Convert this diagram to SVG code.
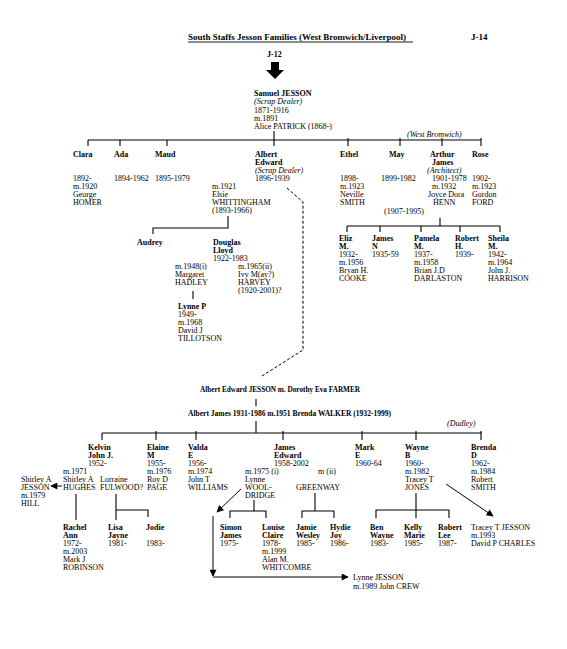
<svg xmlns="http://www.w3.org/2000/svg" width="567" height="649" viewBox="0 0 567 649">
<style>
text{font-family:"Liberation Serif","Times New Roman",serif;font-size:8px;fill:#000}
.b{font-weight:bold}
.i{font-style:italic}
.h{font-size:9px;font-weight:bold}
.ln{stroke:#000;stroke-width:1.1;fill:none}
.dash{stroke:#000;stroke-width:1;fill:none;stroke-dasharray:3,2}
.ar{stroke:#000;stroke-width:1;fill:none;marker-end:url(#ah)}
</style>
<defs>
<marker id="ah" viewBox="0 0 10 10" refX="9" refY="5" markerWidth="8" markerHeight="7" markerUnits="userSpaceOnUse" orient="auto"><path d="M0,0 L10,5 L0,10z" fill="#000"/></marker>
</defs>
<rect width="567" height="649" fill="#fff"/>
<g id="header">
<text class="h" x="188" y="40">South Staffs Jesson Families (West Bromwich/Liverpool)</text>
<line x1="188" y1="42" x2="413" y2="42" stroke="#000" stroke-width="0.9"/>
<text class="h" x="471" y="40">J-14</text>
<text class="b" x="267" y="57">J-12</text>
<rect x="271" y="62" width="8" height="9" fill="#000"/>
<polygon points="266,70 284,70 275,79" fill="#000"/>
</g>
<g id="connectors">
<line class="ln" x1="274" y1="131" x2="274" y2="146"/>
<line class="ln" x1="88" y1="140" x2="481" y2="140" stroke-width="1.4"/>
<path class="ln" d="M88,140V146M120,140V146M167,140V146M348,138V146M400,138V146M442,138V146M481,138V146"/>
<path class="ln" d="M228,216V228H153V234"/>
<path class="ln" d="M193,291V299"/>
<path class="ln" d="M440,218V226M347,226H500M347,226V232M380,226V232M421,226V232M460,226V232M500,226V232"/>
<path class="dash" d="M287,188L303,202L303,350L262,376"/>
<path class="ln" d="M256,399V406M256,421V433"/>
<line class="ln" x1="102" y1="433" x2="482" y2="433" stroke-width="1.5"/>
<path class="ln" d="M102,433V440M156,431V440M196,431V440M283,431V440M362,431V440M416,431V440M481,431V440"/>
<path class="ar" d="M62,486H51"/>
<path class="ln" d="M76,494V520"/>
<path class="ln" d="M116,494V520M116,510H148V517"/>
<path class="ln" d="M254,500V511M230,518V511H266V518"/>
<path class="ln" d="M315,493V511M302,518V511H334V518"/>
<path class="ln" d="M416,493V518M376,518V510H449V518"/>
<path class="ar" d="M241,489L217,512"/>
<path class="ar" d="M446,484L493,516"/>
<path class="ar" d="M213,516V576"/>
<path class="ar" d="M213,577H348"/>
</g>
<g id="samuel">
<text x="254" y="96"><tspan class="b">Samuel JESSON</tspan><tspan class="i" x="254" dy="8.3">(Scrap Dealer)</tspan><tspan x="254" dy="8.3">1871-1916</tspan><tspan x="254" dy="8.2">m.1891</tspan><tspan x="254" dy="8.2">Alice PATRICK (1868-)</tspan></text>
<text class="i" x="407" y="137">(West Bromwich)</text>
</g>
<g id="clara"><text x="73" y="157"><tspan class="b">Clara</tspan><tspan x="73" dy="24">1892-</tspan><tspan x="73" dy="8">m.1920</tspan><tspan x="73" dy="8">George</tspan><tspan x="73" dy="8">HOMER</tspan></text></g>
<g id="ada"><text x="114" y="157"><tspan class="b">Ada</tspan><tspan x="114" dy="24">1894-1962</tspan></text></g>
<g id="maud"><text x="155" y="157"><tspan class="b">Maud</tspan><tspan x="155" dy="24">1895-1979</tspan></text></g>
<g id="albert-edward"><text x="255" y="157"><tspan class="b">Albert</tspan><tspan class="b" x="255" dy="8">Edward</tspan><tspan class="i" x="255" dy="8">(Scrap Dealer)</tspan><tspan x="255" dy="8">1896-1939</tspan></text></g>
<g id="elsie"><text x="212" y="189"><tspan>m.1921</tspan><tspan x="212" dy="8">Elsie</tspan><tspan x="212" dy="8">WHITTINGHAM</tspan><tspan x="212" dy="8">(1893-1966)</tspan></text></g>
<g id="ethel"><text x="340" y="157"><tspan class="b">Ethel</tspan><tspan x="340" dy="24">1898-</tspan><tspan x="340" dy="8">m.1923</tspan><tspan x="340" dy="8">Neville</tspan><tspan x="340" dy="8">SMITH</tspan></text></g>
<g id="may"><text x="389" y="157"><tspan class="b">May</tspan><tspan x="381" dy="24">1899-1982</tspan></text></g>
<g id="arthur"><text x="430" y="157"><tspan class="b">Arthur</tspan><tspan class="b" x="432" dy="8">James</tspan><tspan class="i" x="427" dy="8">(Architect)</tspan><tspan x="432" dy="8">1901-1978</tspan><tspan x="432" dy="8">m.1932</tspan><tspan x="428" dy="8">Joyce Dora</tspan><tspan x="433" dy="8">HENN</tspan><tspan x="384" dy="9">(1907-1995)</tspan></text></g>
<g id="rose"><text x="472" y="157"><tspan class="b">Rose</tspan><tspan x="472" dy="24">1902-</tspan><tspan x="472" dy="8">m.1923</tspan><tspan x="472" dy="8">Gordon</tspan><tspan x="472" dy="8">FORD</tspan></text></g>
<g id="audrey"><text class="b" x="137" y="245">Audrey</text></g>
<g id="douglas"><text x="213" y="245"><tspan class="b">Douglas</tspan><tspan class="b" x="213" dy="8">Lloyd</tspan><tspan x="213" dy="8">1922-1983</tspan></text></g>
<g id="margaret"><text x="175" y="269"><tspan>m.1948(i)</tspan><tspan x="175" dy="8">Margaret</tspan><tspan x="175" dy="8">HADLEY</tspan></text></g>
<g id="ivy"><text x="238" y="269"><tspan>m.1965(ii)</tspan><tspan x="238" dy="8">Ivy M(ay?)</tspan><tspan x="238" dy="8">HARVEY</tspan><tspan x="238" dy="8">(1920-2001)?</tspan></text></g>
<g id="lynne-p"><text x="178" y="309"><tspan class="b">Lynne P</tspan><tspan x="178" dy="8">1949-</tspan><tspan x="178" dy="8">m.1968</tspan><tspan x="178" dy="8">David J</tspan><tspan x="178" dy="8">TILLOTSON</tspan></text></g>
<g id="eliz"><text x="339" y="241"><tspan class="b">Eliz</tspan><tspan class="b" x="339" dy="8">M.</tspan><tspan x="339" dy="8">1932-</tspan><tspan x="339" dy="8">m.1956</tspan><tspan x="339" dy="8">Bryan H.</tspan><tspan x="339" dy="8">COOKE</tspan></text></g>
<g id="james-n"><text x="372" y="241"><tspan class="b">James</tspan><tspan class="b" x="372" dy="8">N</tspan><tspan x="372" dy="8">1935-59</tspan></text></g>
<g id="pamela"><text x="414" y="241"><tspan class="b">Pamela</tspan><tspan class="b" x="414" dy="8">M.</tspan><tspan x="414" dy="8">1937-</tspan><tspan x="414" dy="8">m.1958</tspan><tspan x="414" dy="8">Brian J.D</tspan><tspan x="414" dy="8">DARLASTON</tspan></text></g>
<g id="robert-h"><text x="455" y="241"><tspan class="b">Robert</tspan><tspan class="b" x="455" dy="8">H.</tspan><tspan x="455" dy="8">1939-</tspan></text></g>
<g id="sheila"><text x="488" y="241"><tspan class="b">Sheila</tspan><tspan class="b" x="488" dy="8">M.</tspan><tspan x="488" dy="8">1942-</tspan><tspan x="488" dy="8">m.1964</tspan><tspan x="488" dy="8">John J.</tspan><tspan x="488" dy="8">HARRISON</tspan></text></g>
<g id="albert-dorothy"><text class="b" x="200" y="392" textLength="160" lengthAdjust="spacingAndGlyphs">Albert Edward JESSON m. Dorothy Eva FARMER</text></g>
<g id="albert-james"><text class="b" x="188" y="416" textLength="203" lengthAdjust="spacingAndGlyphs">Albert James 1931-1986  m.1951 Brenda WALKER (1932-1999)</text>
<text class="i" x="447" y="426">(Dudley)</text></g>
<g id="kelvin"><text x="88" y="450"><tspan class="b">Kelvin</tspan><tspan class="b" x="88" dy="8">John J.</tspan><tspan x="88" dy="8">1952-</tspan></text></g>
<g id="shirley-hughes"><text x="63" y="474"><tspan>m.1971</tspan><tspan x="63" dy="8">Shirley A</tspan><tspan x="63" dy="8">HUGHES</tspan></text></g>
<g id="shirley-jesson"><text x="21" y="482"><tspan>Shirley A</tspan><tspan x="21" dy="8">JESSON</tspan><tspan x="21" dy="8">m.1979</tspan><tspan x="21" dy="8">HILL</tspan></text></g>
<g id="lorraine"><text x="100" y="482"><tspan>Lorraine</tspan><tspan x="100" dy="8">FULWOOD?</tspan></text></g>
<g id="elaine"><text x="147" y="450"><tspan class="b">Elaine</tspan><tspan class="b" x="147" dy="8">M</tspan><tspan x="147" dy="8">1955-</tspan><tspan x="147" dy="8">m.1976</tspan><tspan x="147" dy="8">Roy D</tspan><tspan x="147" dy="8">PAGE</tspan></text></g>
<g id="valda"><text x="188" y="450"><tspan class="b">Valda</tspan><tspan class="b" x="188" dy="8">E</tspan><tspan x="188" dy="8">1956-</tspan><tspan x="188" dy="8">m.1974</tspan><tspan x="188" dy="8">John T</tspan><tspan x="188" dy="8">WILLIAMS</tspan></text></g>
<g id="james-edward"><text x="274" y="450"><tspan class="b">James</tspan><tspan class="b" x="274" dy="8">Edward</tspan><tspan x="274" dy="8">1958-2002</tspan></text></g>
<g id="lynne-wooldridge"><text x="245" y="474"><tspan>m.1975 (i)</tspan><tspan x="245" dy="8">Lynne</tspan><tspan x="245" dy="8">WOOL-</tspan><tspan x="245" dy="8">DRIDGE</tspan></text></g>
<g id="greenway"><text x="318" y="474"><tspan>m (ii)</tspan><tspan x="296" dy="16">GREENWAY</tspan></text></g>
<g id="mark"><text x="355" y="450"><tspan class="b">Mark</tspan><tspan class="b" x="355" dy="8">E</tspan><tspan x="355" dy="8">1960-64</tspan></text></g>
<g id="wayne"><text x="405" y="450"><tspan class="b">Wayne</tspan><tspan class="b" x="405" dy="8">B</tspan><tspan x="405" dy="8">1960-</tspan><tspan x="405" dy="8">m.1982</tspan><tspan x="405" dy="8">Tracey T</tspan><tspan x="405" dy="8">JONES</tspan></text></g>
<g id="brenda"><text x="471" y="450"><tspan class="b">Brenda</tspan><tspan class="b" x="471" dy="8">D</tspan><tspan x="471" dy="8">1962-</tspan><tspan x="471" dy="8">m.1984</tspan><tspan x="471" dy="8">Robert</tspan><tspan x="471" dy="8">SMITH</tspan></text></g>
<g id="rachel"><text x="63" y="530"><tspan class="b">Rachel</tspan><tspan class="b" x="63" dy="8">Ann</tspan><tspan x="63" dy="8">1972-</tspan><tspan x="63" dy="8">m.2003</tspan><tspan x="63" dy="8">Mark J</tspan><tspan x="63" dy="8">ROBINSON</tspan></text></g>
<g id="lisa"><text x="108" y="530"><tspan class="b">Lisa</tspan><tspan class="b" x="108" dy="8">Jayne</tspan><tspan x="108" dy="8">1981-</tspan></text></g>
<g id="jodie"><text x="146" y="530"><tspan class="b">Jodie</tspan><tspan x="146" dy="16">1983-</tspan></text></g>
<g id="simon"><text x="220" y="530"><tspan class="b">Simon</tspan><tspan class="b" x="220" dy="8">James</tspan><tspan x="220" dy="8">1975-</tspan></text></g>
<g id="louise"><text x="262" y="530"><tspan class="b">Louise</tspan><tspan class="b" x="262" dy="8">Claire</tspan><tspan x="262" dy="8">1978-</tspan><tspan x="262" dy="8">m.1999</tspan><tspan x="262" dy="8">Alan M.</tspan><tspan x="262" dy="8">WHITCOMBE</tspan></text></g>
<g id="jamie"><text x="296" y="530"><tspan class="b">Jamie</tspan><tspan class="b" x="296" dy="8">Wesley</tspan><tspan x="296" dy="8">1985-</tspan></text></g>
<g id="hydie"><text x="330" y="530"><tspan class="b">Hydie</tspan><tspan class="b" x="330" dy="8">Joy</tspan><tspan x="330" dy="8">1986-</tspan></text></g>
<g id="ben"><text x="370" y="530"><tspan class="b">Ben</tspan><tspan class="b" x="370" dy="8">Wayne</tspan><tspan x="370" dy="8">1983-</tspan></text></g>
<g id="kelly"><text x="404" y="530"><tspan class="b">Kelly</tspan><tspan class="b" x="404" dy="8">Marie</tspan><tspan x="404" dy="8">1985-</tspan></text></g>
<g id="robert-lee"><text x="438" y="530"><tspan class="b">Robert</tspan><tspan class="b" x="438" dy="8">Lee</tspan><tspan x="438" dy="8">1987-</tspan></text></g>
<g id="tracey-jesson"><text x="471" y="530"><tspan>Tracey T JESSON</tspan><tspan x="471" dy="8">m.1993</tspan><tspan x="471" dy="8">David P CHARLES</tspan></text></g>
<g id="lynne-jesson"><text x="353" y="580"><tspan>Lynne JESSON</tspan><tspan x="353" dy="9">m.1989 John CREW</tspan></text></g>
</svg>
